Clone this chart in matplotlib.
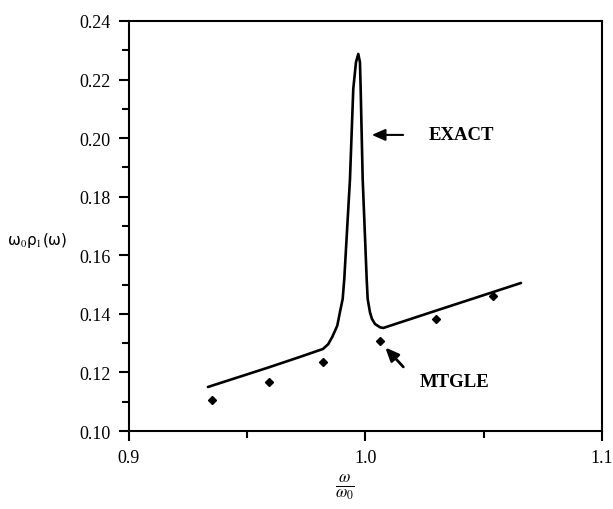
import numpy as np
import matplotlib
matplotlib.use("Agg")
from matplotlib import pyplot as plt
from matplotlib.ticker import MultipleLocator

# Exact spectral density curve
exact_x = [0.93340, 0.95835, 0.97230, 0.98203, 0.98420, 0.98600,
           0.98808, 0.98922, 0.99036, 0.99104, 0.99345, 0.99484, 0.99598,
           0.99696, 0.99767, 0.99797, 0.99882, 1.00051, 1.00093, 1.00190,
           1.00275, 1.00402, 1.00613, 1.00753, 1.02981, 1.06575]
exact_y = [0.11504, 0.12153, 0.12530, 0.12802, 0.12960, 0.13220,
           0.13597, 0.14065, 0.14509, 0.15192, 0.18606, 0.21678, 0.22590,
           0.22873, 0.22590, 0.21678, 0.18606, 0.15192, 0.14509, 0.14055,
           0.13826, 0.13655, 0.13542, 0.13519, 0.14109, 0.15055]

# MTGLE points
mtgle_x = [0.935, 0.959, 0.982, 1.006, 1.030, 1.054]
mtgle_y = [0.1106, 0.1168, 0.1236, 0.1307, 0.1383, 0.1461]

serif = "Liberation Serif"
plt.rcParams["font.family"] = serif
plt.rcParams["mathtext.fontset"] = "stix"

fig = plt.figure(figsize=(6.13, 5.10), dpi=100)
ax = fig.add_axes([0.2104, 0.1529, 0.7716, 0.8040])

ax.plot(exact_x, exact_y, color="black", lw=1.9,
        solid_joinstyle="round", solid_capstyle="round")
ax.plot(mtgle_x, mtgle_y, "D", color="black", markersize=4.5, linestyle="none")

ax.set_xlim(0.9, 1.1)
ax.set_ylim(0.10, 0.24)
ax.xaxis.set_major_locator(MultipleLocator(0.1))
ax.xaxis.set_minor_locator(MultipleLocator(0.05))
ax.yaxis.set_major_locator(MultipleLocator(0.02))
ax.yaxis.set_minor_locator(MultipleLocator(0.01))
ax.xaxis.set_major_formatter(plt.FuncFormatter(lambda v, p: f"{v:.1f}"))
ax.yaxis.set_major_formatter(plt.FuncFormatter(lambda v, p: f"{v:.2f}"))

ax.tick_params(which="both", direction="out", width=1.5, labelsize=13, colors="black")
ax.tick_params(which="major", length=7, pad=6)
ax.tick_params(which="minor", length=5)
for side in ["left", "bottom", "top", "right"]:
    ax.spines[side].set_linewidth(1.5)

# annotations
ax.annotate("", xy=(1.0015, 0.2011), xytext=(1.0171, 0.2011),
            arrowprops=dict(arrowstyle="-|>,head_length=0.8,head_width=0.35",
                            color="black", lw=1.5))
ax.text(1.0268, 0.2011, "EXACT", fontsize=13.5, fontweight="bold",
        va="center", ha="left")
ax.annotate("", xy=(1.0076, 0.1292), xytext=(1.0168, 0.1212),
            arrowprops=dict(arrowstyle="-|>,head_length=0.8,head_width=0.35",
                            color="black", lw=2))
ax.text(1.0230, 0.1168, "MTGLE", fontsize=13.5, fontweight="bold",
        va="center", ha="left")

fig.text(0.012, 0.528, r"ω$_0$ρ$_1$(ω)", fontsize=11,
         family="DejaVu Sans", va="center", ha="left")
fig.text(0.563, 0.044, r"$\frac{\omega}{\omega_0}$", fontsize=17,
         va="center", ha="center")

fig.savefig("out.png", dpi=100)
